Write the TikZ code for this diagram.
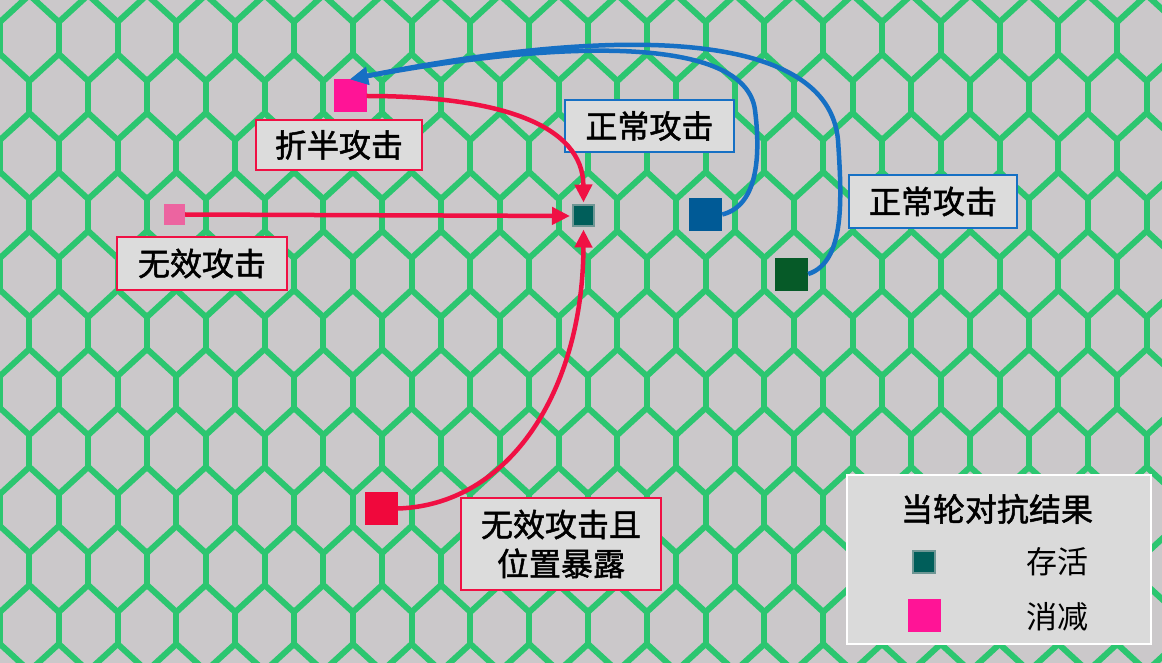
\documentclass[tikz,border=0pt]{standalone}
\usepackage{fontspec}
\newfontfamily\cjk{Noto Sans CJK SC}
\newfontfamily\cjkm{Noto Sans CJK SC}[FakeBold=1.6]
\usetikzlibrary{arrows.meta}
\definecolor{bgc}{RGB}{203,200,202}
\definecolor{meshc}{RGB}{44,198,112}
\definecolor{lblfill}{RGB}{220,220,220}
\definecolor{lgdfill}{RGB}{218,218,218}
\definecolor{redln}{RGB}{240,16,68}
\definecolor{blueln}{RGB}{22,112,196}
\definecolor{cmag}{RGB}{255,20,150}
\definecolor{cpink}{RGB}{236,100,160}
\definecolor{cteal}{RGB}{0,94,90}
\definecolor{ctealb}{RGB}{110,150,148}
\definecolor{cblue}{RGB}{0,90,150}
\definecolor{cgreen}{RGB}{6,90,40}
\definecolor{cred}{RGB}{240,8,60}
\begin{document}
\begin{tikzpicture}[x=1pt,y=-1pt,
  sq/.style={rectangle,inner sep=0pt,minimum size=#1},
  lbl/.style={rectangle,draw=redln,line width=1.8pt,fill=lblfill,inner sep=0pt,
    font=\cjkm\fontsize{32}{39}\selectfont,align=center},
  lblb/.style={lbl,draw=blueln},
  redarr/.style={draw=redln,line width=4.5pt,-{Triangle[length=18pt,width=17pt]},shorten >=2pt},
  bluearr/.style={draw=blueln,line width=4.5pt,-{Triangle[length=18pt,width=17pt]}},
  meshln/.style={draw=meshc,line width=6pt,line cap=round,line join=round}
]
\useasboundingbox (0,0) rectangle (1162,663);
\fill[bgc] (0,0) rectangle (1162,663);
% hexagonal mesh
\begin{scope}
\clip (0,0) rectangle (1162,663);
\foreach \r in {-1,...,11}{
  \pgfmathsetmacro{\yc}{38+59*\r}
  \pgfmathsetmacro{\xo}{mod(\r+2,2)*29.4}
  \foreach \k in {-1,...,20}{
    \pgfmathsetmacro{\xx}{\xo+58.8*\k}
    \draw[meshln] (\xx-29.4,\yc+43) -- (\xx,\yc+16) -- (\xx+29.4,\yc+43);
    \draw[meshln] (\xx,\yc-16) -- (\xx,\yc+16);
  }
}
\end{scope}
% squares
\node[sq=21pt,fill=cteal,draw=ctealb,line width=2pt] (t) at (583.5,216) {};
\node[sq=33pt,fill=cmag] (m) at (350,96) {};
\node[sq=21pt,fill=cpink] (p) at (174.5,214.5) {};
\node[sq=33pt,fill=cred] (r) at (381,508.5) {};
\node[sq=33pt,fill=cblue] (b) at (705.5,214.5) {};
\node[sq=33pt,fill=cgreen] (g) at (791.5,274) {};
% labels
\node[lbl,minimum width=166pt,minimum height=50pt] (l1) at (339,145) {折半攻击};
\node[lbl,minimum width=170pt,minimum height=53pt] (l2) at (202,263.5) {无效攻击};
\node[lbl,minimum width=200pt,minimum height=92pt] (l3) at (561,544) {无效攻击且\\位置暴露};
\node[lblb,minimum width=169pt,minimum height=52pt] (l4) at (649.5,126) {正常攻击};
\node[lblb,minimum width=168pt,minimum height=53pt] (l5) at (933,201.5) {正常攻击};
% arrows
\draw[redarr] (p.east) -- (t.west);
\draw[redarr] (m.east) .. controls (500,96) and (583,125) .. (t.north);
\draw[redarr] (r.east) .. controls (510,505) and (583,390) .. (t.south);
\draw[bluearr] (b.east) .. controls (760,205) and (760,150) .. (755,110) .. controls (745,35) and (560,40) .. (m.north);
\draw[bluearr] (g.east) .. controls (845,262) and (842,200) .. (838,140) .. controls (828,30) and (620,25) .. (m.north);
% legend
\node[rectangle,draw=white,line width=2pt,fill=lgdfill,minimum width=304pt,minimum height=169pt,inner sep=0pt] (lg) at (999,559.5) {};
\node[font=\cjkm\fontsize{32}{36}\selectfont,inner sep=0pt] (lgt) at (997,509) {当轮对抗结果};
\node[sq=22pt,fill=cteal,draw=ctealb,line width=2pt] (lt) at (924,561.5) {};
\node[sq=33pt,fill=cmag] (lm) at (924.5,615) {};
\node[font=\cjk\fontsize{31}{36}\selectfont,inner sep=0pt] (ls) at (1057,562) {存活};
\node[font=\cjk\fontsize{31}{36}\selectfont,inner sep=0pt] (lx) at (1057,617) {消减};
\end{tikzpicture}
\end{document}
